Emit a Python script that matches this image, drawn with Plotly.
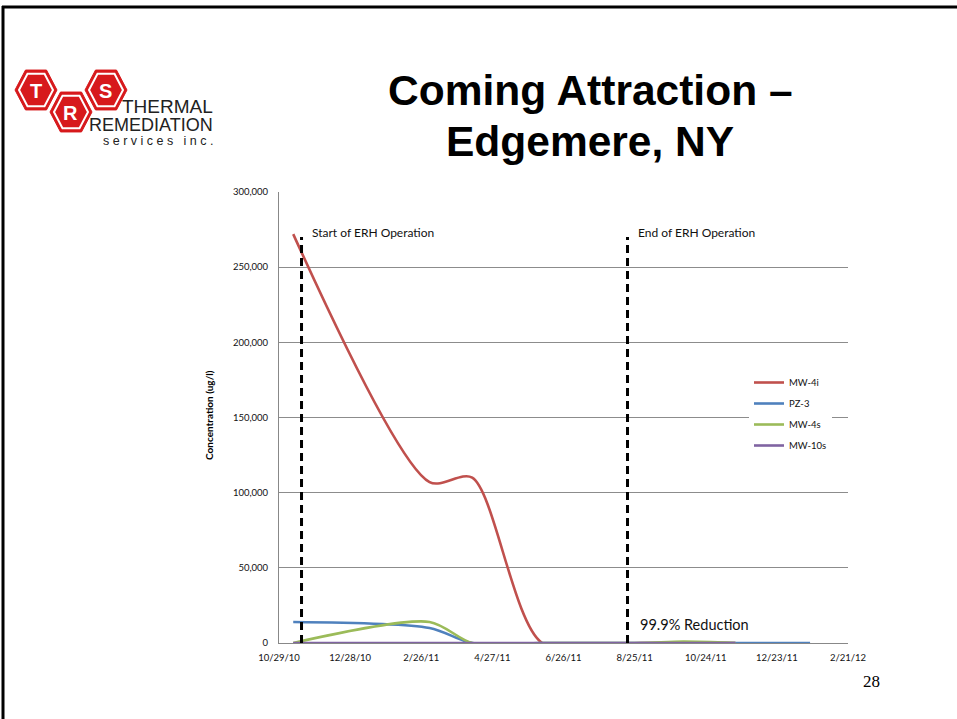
import plotly.graph_objects as go

# ---------------- data ----------------
sample_dates = ["2010-11-10", "2011-03-05", "2011-04-10", "2011-06-08",
                "2011-08-30", "2011-10-05", "2011-11-18", "2012-01-20"]
mw_4i  = [272000, 107000, 110000, 0, 0, 0, 0, None]
pz_3   = [14000, 10000, 0, 0, 0, 0, 0, 0]
mw_4s  = [0, 14000, 0, 0, 0, 900, 0, None]
mw_10s = [0, 0, 0, 0, 0, 0, 0, None]

series_names = ["MW-4i", "PZ-3", "MW-4s", "MW-10s"]
series_colors = ["#C0504D", "#4F81BD", "#9BBB59", "#8064A2"]

erh_start = "2010-11-17"
erh_end = "2011-08-19"
marker_top = 270000

x_tick_vals = ["2010-10-29", "2010-12-28", "2011-02-26", "2011-04-27",
               "2011-06-26", "2011-08-25", "2011-10-24", "2011-12-23", "2012-02-21"]
x_tick_text = ["10/29/10", "12/28/10", "2/26/11", "4/27/11", "6/26/11",
               "8/25/11", "10/24/11", "12/23/11", "2/21/12"]
y_tick_vals = [0, 50000, 100000, 150000, 200000, 250000, 300000]

# ---------------- layout geometry (pixels) ----------------
W, H = 957, 719
PL, PR, PT, PB = 279, 848, 192, 643


def px(x):
    return (x - PL) / (PR - PL)


def py(y):
    return (PB - y) / (PB - PT)


fig = go.Figure()

for name, vals, col in zip(series_names, [mw_4i, pz_3, mw_4s, mw_10s], series_colors):
    fig.add_trace(go.Scatter(
        x=sample_dates, y=vals, name=name, mode="lines", legendgroup=name,
        line=dict(color=col, width=2.6, shape="spline", smoothing=0.8),
        connectgaps=False,
    ))

for d in [erh_start, erh_end]:
    fig.add_trace(go.Scatter(
        x=[d, d], y=[0, marker_top], mode="lines", showlegend=False,
        line=dict(color="black", width=3, dash="8px,5px"), hoverinfo="skip",
    ))

TXT = "Lato, 'Open Sans', sans-serif"

annotations = [
    dict(x=erh_start, y=marker_top, xref="x", yref="y", text="Start of ERH Operation",
         showarrow=False, xanchor="left", yanchor="middle", xshift=8, yshift=5,
         font=dict(family=TXT, size=12, color="#111")),
    dict(x=erh_end, y=marker_top, xref="x", yref="y", text="End of ERH Operation",
         showarrow=False, xanchor="left", yanchor="middle", xshift=8, yshift=5,
         font=dict(family=TXT, size=12, color="#111")),
    dict(x=erh_end, y=12000, xref="x", yref="y", text="99.9% Reduction",
         showarrow=False, xanchor="left", yanchor="middle", xshift=10,
         font=dict(family=TXT, size=14.5, color="#111")),
    dict(x=px(209), y=py(415), xref="paper", yref="paper", text="<b>Concentration (ug/l)</b>",
         textangle=-90, showarrow=False, xanchor="center", yanchor="middle",
         font=dict(family=TXT, size=10, color="#000")),
    # title
    dict(x=px(590), y=py(90), xref="paper", yref="paper", text="<b>Coming Attraction –</b>",
         showarrow=False, xanchor="center", yanchor="middle",
         font=dict(family="Liberation Sans, Arial, sans-serif", size=42.5, color="#000")),
    dict(x=px(590), y=py(141), xref="paper", yref="paper", text="<b>Edgemere, NY</b>",
         showarrow=False, xanchor="center", yanchor="middle",
         font=dict(family="Liberation Sans, Arial, sans-serif", size=42.5, color="#000")),
    # page number
    dict(x=px(871), y=py(681), xref="paper", yref="paper", text="28",
         showarrow=False, xanchor="center", yanchor="middle",
         font=dict(family="Liberation Serif, 'Times New Roman', serif", size=17, color="#000")),
    # logo text
    dict(x=px(215), y=py(106), xref="paper", yref="paper", text="THERMAL",
         showarrow=False, xanchor="right", yanchor="middle",
         font=dict(family="Liberation Sans Narrow, Liberation Sans, Arial", size=19, color="#222")),
    dict(x=px(215), y=py(125), xref="paper", yref="paper", text="REMEDIATION",
         showarrow=False, xanchor="right", yanchor="middle",
         font=dict(family="Liberation Sans Narrow, Liberation Sans, Arial", size=18, color="#222")),
    dict(x=px(215), y=py(141), xref="paper", yref="paper", text="s e r v i c e s   i n c .",
         showarrow=False, xanchor="right", yanchor="middle",
         font=dict(family="Liberation Sans, Arial", size=12.5, color="#222")),
]

shapes = []


def hexpath(cx, cy, r):
    k = 0.95
    pts = [(cx - r, cy), (cx - r / 2, cy - r * k), (cx + r / 2, cy - r * k),
           (cx + r, cy), (cx + r / 2, cy + r * k), (cx - r / 2, cy + r * k)]
    s = "M " + " L ".join(f"{px(a):.5f},{py(b):.5f}" for a, b in pts) + " Z"
    return s


for (cx, cy, letter) in [(36, 90, "T"), (71, 112, "R"), (106, 90, "S")]:
    shapes.append(dict(type="path", path=hexpath(cx, cy, 21), xref="paper", yref="paper",
                       fillcolor="#D7191C", line=dict(color="#D7191C", width=1), layer="above"))
    shapes.append(dict(type="path", path=hexpath(cx, cy, 17), xref="paper", yref="paper",
                       fillcolor="#D7191C", line=dict(color="white", width=2), layer="above"))
    annotations.append(dict(x=px(cx), y=py(cy + 1), xref="paper", yref="paper", text=f"<b>{letter}</b>",
                            showarrow=False, xanchor="center", yanchor="middle",
                            font=dict(family="Liberation Sans, Arial", size=20, color="white")))

# slide border (top and left edges)
shapes.append(dict(type="line", xref="paper", yref="paper", x0=px(2), x1=px(960), y0=py(7), y1=py(7),
                   line=dict(color="black", width=3), layer="above"))
shapes.append(dict(type="line", xref="paper", yref="paper", x0=px(3), x1=px(3), y0=py(6), y1=py(722),
                   line=dict(color="black", width=3), layer="above"))

fig.update_layout(
    width=W, height=H,
    margin=dict(l=PL, r=W - PR, t=PT, b=H - PB),
    paper_bgcolor="white", plot_bgcolor="white",
    showlegend=True,
    legend=dict(x=px(749), y=py(368), xanchor="left", yanchor="top",
                bgcolor="white", borderwidth=0, itemwidth=30,
                traceorder="grouped", tracegroupgap=2,
                font=dict(family=TXT, size=9.5, color="#111")),
    xaxis=dict(type="date", range=["2010-10-29", "2012-02-21"],
               tickvals=x_tick_vals, ticktext=x_tick_text,
               showgrid=False, showline=True, linecolor="#888", linewidth=1,
               ticks="", ticklabelstandoff=6,
               tickfont=dict(family=TXT, size=9.5, color="#111"), zeroline=False),
    yaxis=dict(range=[0, 300000], tickvals=y_tick_vals, tickformat=",",
               showgrid=True, gridcolor="#8C8C8C", gridwidth=1,
               showline=True, linecolor="#888", linewidth=1, ticks="",
               ticklabelstandoff=8,
               tickfont=dict(family=TXT, size=9.5, color="#111"), zeroline=False),
    annotations=annotations,
    shapes=shapes,
)

fig.write_html("out.html", config={"displayModeBar": False},
               post_script="document.body.style.margin='0px';document.body.style.overflow='hidden';")
